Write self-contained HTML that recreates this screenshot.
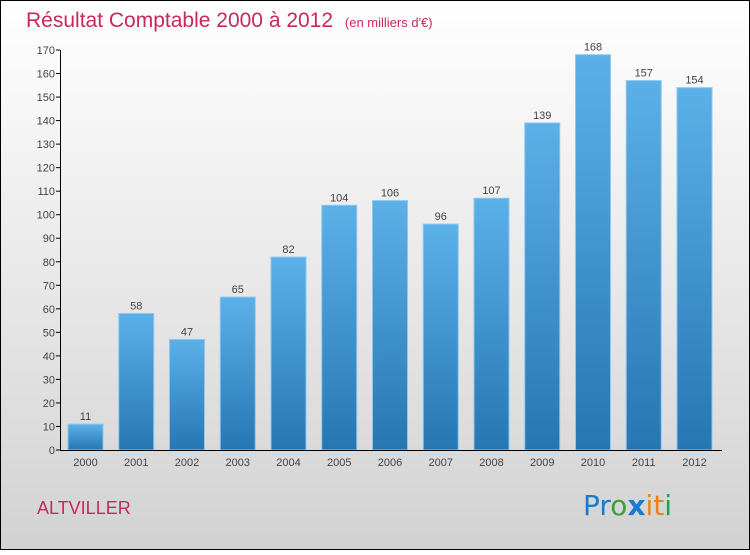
<!DOCTYPE html>
<html><head><meta charset="utf-8"><style>
html,body{margin:0;padding:0}
body{width:750px;height:550px;overflow:hidden;font-family:"Liberation Sans",sans-serif}
</style></head><body>
<svg id="chart" width="750" height="550" xmlns="http://www.w3.org/2000/svg">
<defs>
<linearGradient id="bg" x1="0" y1="0" x2="0" y2="1"><stop offset="0" stop-color="#ffffff"/><stop offset="1" stop-color="#d2d2d2"/></linearGradient>
<linearGradient id="bar" x1="0" y1="0" x2="0" y2="1"><stop offset="0" stop-color="#5cb0e8"/><stop offset="1" stop-color="#2676b4"/></linearGradient>
</defs>
<rect x="0.5" y="0.5" width="749" height="549" fill="url(#bg)" stroke="#000"/>
<text x="26" y="27" font-size="21" fill="#c8285a">Résultat Comptable 2000 à 2012 <tspan font-size="13" dx="6">(en milliers d'€)</tspan></text>
<g id="plot"></g>
<text x="37" y="514" font-size="18" fill="#c8285a">ALTVILLER</text>
<g font-size="28" font-family="'DejaVu Sans',sans-serif">
<text x="583" y="515"><tspan fill="#1a7ad0">Pr</tspan><tspan fill="#3aa03a">o</tspan><tspan fill="#1a7ad0" font-weight="bold">x</tspan><tspan fill="#f08010">it</tspan><tspan fill="#20a050">i</tspan></text>
</g>
</svg>
<script>
const years=["2000","2001","2002","2003","2004","2005","2006","2007","2008","2009","2010","2011","2012"];
const values=[11,58,47,65,82,104,106,96,107,139,168,157,154];
const yTicks=[0,10,20,30,40,50,60,70,80,90,100,110,120,130,140,150,160,170];
const NS="http://www.w3.org/2000/svg";
const g=document.getElementById('plot');
const y0=450,yTop=50,yMax=170;
const ys=v=>y0-(v/yMax)*(y0-yTop);
const xs=i=>68+i*50.75;
function el(t,a){const e=document.createElementNS(NS,t);for(const k in a)e.setAttribute(k,a[k]);g.appendChild(e);return e;}
yTicks.forEach(t=>{
  const l=el('line',{x1:56,x2:60,y1:ys(t),y2:ys(t),stroke:'#000'});
  
  
  const tx=el('text',{x:55,y:ys(t)+4,'font-size':11,'text-anchor':'end',fill:'#444'});
  tx.textContent=t;
  
  
});
values.forEach((v,i)=>{
  const r=el('rect',{x:xs(i),y:ys(v),width:35,height:y0-ys(v),fill:'url(#bar)',stroke:'#8cc8f0','stroke-width':1});
  
  
  const vl=el('text',{x:xs(i)+17.5,y:ys(v)-4,'font-size':11,'text-anchor':'middle',fill:'#444'});
  vl.textContent=v;
  
  
  const xl=el('text',{x:xs(i)+17.5,y:466,'font-size':11,'text-anchor':'middle',fill:'#444'});
  xl.textContent=years[i];
  
  
});
const ya=el('line',{x1:60.5,x2:60.5,y1:yTop,y2:y0,stroke:'#000'});


const xa=el('line',{x1:60,x2:722,y1:y0+0.5,y2:y0+0.5,stroke:'#000'});


</script>
</body></html>
